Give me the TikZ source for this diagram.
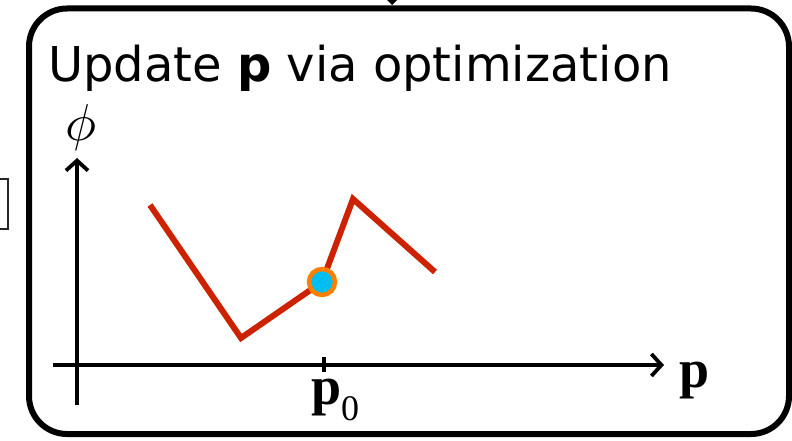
\documentclass[tikz,border=0pt]{standalone}
\usepackage{fontspec}
\setmainfont{Liberation Serif}
\newfontfamily\titlefont{DejaVu Sans}
\usetikzlibrary{arrows.meta}
\definecolor{curvered}{RGB}{204,34,0}
\definecolor{dotorange}{RGB}{255,128,0}
\definecolor{dotcyan}{RGB}{0,190,240}
\tikzset{
  axis/.style={line width=3.8pt, -{Straight Barb[length=10pt,width=22pt,line width=3.8pt]}},
  curve/.style={curvered, line width=6pt, line join=miter},
  framebox/.style={line width=6pt, rounded corners=38pt},
  lbl/.style={inner sep=0pt, outer sep=0pt}
}
\begin{document}
\begin{tikzpicture}[x=1pt,y=-1pt]
\useasboundingbox (0,0) rectangle (792,441);
\begin{scope}
\clip (0,0) rectangle (792,441);
% partial left box
\draw[line width=1.6pt, black!85] (-30,179) rectangle (8,229);
% incoming arrow tip at top
\fill (385,-2) -- (399,-2) -- (392,5) -- cycle;
% main frame
\draw[framebox] (29,8.5) rectangle (789,434);
\end{scope}
% title
\node[lbl, anchor=base west] (title) at (48,82) {\titlefont\fontsize{48}{48}\selectfont Update \textbf{p} via optimization};
% axes
\coordinate (xs) at (53,365);
\coordinate (xe) at (664,365);
\coordinate (ys) at (77,405);
\coordinate (ye) at (77,158);
\draw[axis] (xs) -- (xe);
\draw[axis] (ys) -- (ye);
% tick
\draw[line width=4pt] (323.5,357) -- (323.5,372);
% labels
\node[lbl] (phi) at (81,127) {\scalebox{5.2}{$\phi$}};
\node[lbl, anchor=base west] (plabel) at (679,387) {\fontsize{54}{54}\selectfont\bfseries p};
\node[lbl, anchor=base west] (p0) at (311,404) {\fontsize{54}{54}\selectfont\bfseries p};
\node[lbl, anchor=base west] (sub0) at (341,420) {\fontsize{36}{36}\selectfont 0};
% red polyline
\draw[curve] (150,205) -- (241,338) -- (322,282) -- (353,199) -- (435,272);
% dot
\draw[dotorange, fill=dotcyan, line width=4.5pt] (322,282) circle (13);
\end{tikzpicture}
\end{document}
